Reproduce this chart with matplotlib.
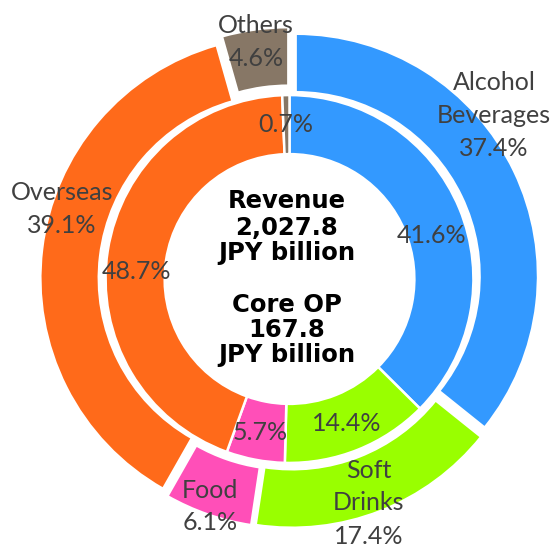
import matplotlib
matplotlib.use("Agg")
import matplotlib.pyplot as plt

# ---- data ----
segments = ["Alcohol\nBeverages", "Soft\nDrinks", "Food", "Overseas", "Others"]
revenue_share = [37.4, 17.4, 6.1, 39.1, 4.6]   # outer ring (%)
coreop_share = [41.6, 14.4, 5.7, 48.7, 0.7]    # inner ring (%)
colors = ["#3399FF", "#99FF00", "#FF4FB8", "#FF6A1A", "#877766"]
center_lines = ["Revenue", "2,027.8", "JPY billion", "", "Core OP", "167.8", "JPY billion"]

# ---- layout (pixels of reference) ----
W, H = 552, 546
CX, CY = 289.5, 279.0
SCALE = 242.0


def px(x, y):
    return (x - CX) / SCALE, (CY - y) / SCALE


fig = plt.figure(figsize=(W / 100, H / 100), dpi=100)
ax = fig.add_axes([0, 0, 1, 1])

outer_explode = [0.029, 0.029, 0.029, 0.029, 0.040]
ax.pie(revenue_share, colors=colors, radius=1.0, startangle=90, counterclock=False,
       explode=outer_explode,
       wedgeprops=dict(width=0.240, edgecolor="white", linewidth=1.5))
ax.pie(coreop_share, colors=colors, radius=0.760, startangle=90, counterclock=False,
       wedgeprops=dict(width=0.244, edgecolor="white", linewidth=1.8))

ax.set_xlim(-CX / SCALE, (W - CX) / SCALE)
ax.set_ylim(-(H - CY) / SCALE, CY / SCALE)
ax.set_aspect("equal")
ax.axis("off")

LABEL_FONT = "Lato"
LABEL_SIZE = 18
TXT = "#404040"
LINE = 33.0


def label(lines, x, y_first):
    for i, s in enumerate(lines):
        xx, yy = px(x, y_first + i * LINE)
        ax.text(xx, yy, s, ha="center", va="center", fontsize=LABEL_SIZE,
                family=LABEL_FONT, color=TXT)


# outer labels (name + revenue share)
outer_pos = [(494, 82), (369, 470), (210, 490), (62, 192), (256, 25)]
for name, val, (x, y) in zip(segments, revenue_share, outer_pos):
    label(name.split("\n") + [f"{val:.1f}%"], x, y)

# inner labels (core OP share)
inner_pos = [(432, 235), (347, 423), (260, 432), (136, 271), (286, 124)]
for val, (x, y) in zip(coreop_share, inner_pos):
    label([f"{val:.1f}%"], x, y)

# center text
center_y = [208, 235, 260, None, 312, 337, 362]
for s, y in zip(center_lines, center_y):
    if not s:
        continue
    xx, yy = px(287, y)
    ax.text(xx, yy, s, ha="center", va="baseline", fontsize=17.5,
            family="DejaVu Sans", fontweight="bold", color="black")

fig.savefig("out.png", dpi=100)
